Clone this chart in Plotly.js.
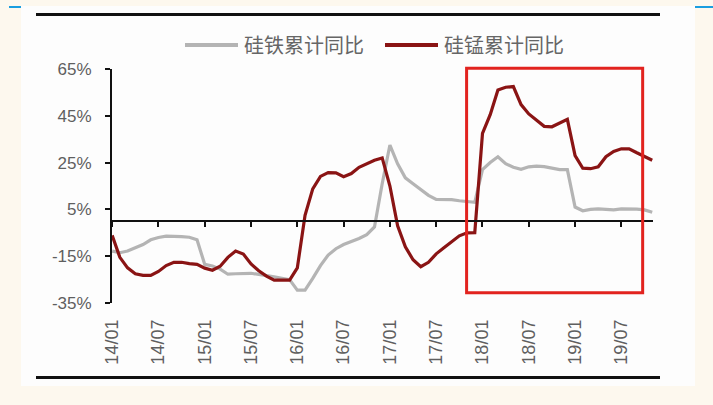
<!DOCTYPE html>
<html>
<head>
<meta charset="utf-8">
<script src="https://cdn.plot.ly/plotly-3.0.1.min.js"></script>
<style>
  html, body { margin: 0; padding: 0; background: #fdf8ee; }
  #wrap { position: relative; width: 713px; height: 405px; overflow: hidden; }
  .panel { position: absolute; left: 21px; top: 6px; width: 674px; height: 380px; background: #fdfdfd; }
  .rule { position: absolute; left: 36px; width: 624px; height: 3px; background: #111; }
  .mark { position: absolute; top: 6px; height: 2px; background: #1b9ee0; }
  #chart { position: absolute; left: 0; top: 0; width: 713px; height: 405px; }
</style>
</head>
<body>
<div id="wrap">
  <div class="panel"></div>
  <div class="rule" style="top:13px"></div>
  <div class="rule" style="top:376px"></div>
  <div class="mark" style="left:9px;width:12px"></div>
  <div class="mark" style="left:695px;width:18px"></div>
  <div id="chart"></div>
</div>
<script>
// Monthly categories, Jan 2014 to Nov 2019
const months = [
  '14/01','14/02','14/03','14/04','14/05','14/06','14/07','14/08','14/09','14/10','14/11','14/12',
  '15/01','15/02','15/03','15/04','15/05','15/06','15/07','15/08','15/09','15/10','15/11','15/12',
  '16/01','16/02','16/03','16/04','16/05','16/06','16/07','16/08','16/09','16/10','16/11','16/12',
  '17/01','17/02','17/03','17/04','17/05','17/06','17/07','17/08','17/09','17/10','17/11','17/12',
  '18/01','18/02','18/03','18/04','18/05','18/06','18/07','18/08','18/09','18/10','18/11','18/12',
  '19/01','19/02','19/03','19/04','19/05','19/06','19/07','19/08','19/09','19/10','19/11'
];

// Labelled ticks on the time axis
const tickLabels = ['14/01','14/07','15/01','15/07','16/01','16/07','17/01','17/07','18/01','18/07','19/01','19/07'];

// Value axis ticks (%)
const yTicks = [65, 45, 25, 5, -15, -35];

const seriesNames = ['硅铁累计同比', '硅锰累计同比'];

// Ferrosilicon, cumulative YoY (%)
const ferrosilicon = [
  -12.8, -13.5, -12.8, -11.5, -10.0, -8.0, -7.0, -6.4, -6.4, -6.6, -6.9, -8.0,
  -18.5, -19.2, -20.5, -22.7, -22.5, -22.3, -22.3, -22.8, -23.2, -23.8, -24.4, -25.0,
  -29.5, -29.5, -24.5, -19.0, -14.5, -11.8, -10.0, -8.8, -7.4, -5.8, -2.5, 16.0,
  32.5, 24.5, 18.5, 16.0, 13.7, 11.0, 9.3, 9.3, 9.2, 8.7, 8.3, 8.0,
  22.0, 25.0, 27.5, 24.5, 23.0, 22.1, 23.2, 23.5, 23.3, 22.8, 22.0, 22.0,
  6.0, 4.4, 5.0, 5.2, 5.0, 4.8, 5.2, 5.3, 5.1, 4.8, 3.8
];

// Silicomanganese, cumulative YoY (%)
const silicomanganese = [
  -6.1, -15.5, -20.0, -22.5, -23.2, -23.2, -21.5, -19.0, -17.6, -17.6, -18.2, -18.5,
  -20.1, -21.0, -19.3, -15.5, -12.8, -14.1, -18.3, -21.2, -23.5, -25.2, -25.2, -25.2,
  -20.0, 2.5, 13.8, 19.1, 20.7, 20.6, 19.0, 20.3, 23.0, 24.5, 26.0, 27.0,
  15.0, -2.0, -11.0, -16.5, -19.5, -17.6, -14.0, -11.4, -9.0, -6.3, -5.0, -4.9,
  37.5, 45.5, 56.0, 57.2, 57.5, 49.8, 45.8, 43.0, 40.5, 40.3, 42.0, 43.5,
  28.0, 22.6, 22.4, 23.2, 27.5, 29.8, 30.9, 30.9, 29.2, 27.5, 26.0
];

// Highlighted period (category index span)
const highlightFrom = 45.94;
const highlightTo = 68.76;

const colors = ['#b4b4b4', '#8a1414'];

const W = 713, H = 405;
const M = { l: 112, r: 60, t: 69, b: 102 };
const PW = W - M.l - M.r, PH = H - M.t - M.b;
const px = v => (v - M.l) / PW;          // page x -> paper x
const py = v => (H - M.b - v) / PH;      // page y -> paper y

const traces = [ferrosilicon, silicomanganese].map((vals, k) => ({
  type: 'scatter',
  mode: 'lines',
  name: seriesNames[k],
  x: months,
  y: vals,
  xaxis: 'x',
  yaxis: 'y',
  line: { color: colors[k], width: 3.2 },
  showlegend: false,
  hoverinfo: 'skip'
}));

const xr = [-0.02, 70.1];

// Legend drawn as short strokes followed by labels
const legendItems = [
  { x0: 185, x1: 238, tx: 242 },
  { x0: 385, x1: 438, tx: 442 }
];
const legendY = 45;

const shapes = [];
const annotations = [];
legendItems.forEach((it, k) => {
  shapes.push({
    type: 'line', xref: 'paper', yref: 'paper',
    x0: px(it.x0), x1: px(it.x1), y0: py(legendY), y1: py(legendY),
    line: { color: colors[k], width: 4 }
  });
  annotations.push({
    xref: 'paper', yref: 'paper', x: px(it.tx), y: py(legendY),
    xanchor: 'left', yanchor: 'middle', showarrow: false,
    text: seriesNames[k],
    font: { family: '"Noto Sans CJK SC", sans-serif', size: 20, color: '#666666' }
  });
});

// Highlight box over 2018–2019
shapes.push({
  type: 'rect', xref: 'x', yref: 'paper',
  x0: highlightFrom, x1: highlightTo, y0: py(292.7), y1: py(68.3),
  line: { color: '#e2231f', width: 3 }, fillcolor: 'rgba(0,0,0,0)'
});

const layout = {
  width: W, height: H,
  margin: M,
  paper_bgcolor: 'rgba(0,0,0,0)',
  plot_bgcolor: 'rgba(0,0,0,0)',
  showlegend: false,
  xaxis: {
    type: 'category',
    categoryorder: 'array', categoryarray: months,
    range: xr,
    tickmode: 'array', tickvals: tickLabels, ticktext: tickLabels,
    tickangle: -90,
    ticks: '', showline: false, showgrid: false, zeroline: false,
    ticklabelstandoff: 12,
    tickfont: { family: '"Liberation Sans", Arial, sans-serif', size: 18, color: '#5f5f5f' }
  },
  xaxis2: {
    type: 'category',
    categoryorder: 'array', categoryarray: months,
    overlaying: 'x', anchor: 'free', position: 35 / 100, side: 'bottom',
    range: xr,
    tickmode: 'array', tickvals: tickLabels,
    showticklabels: false,
    ticks: 'outside', ticklen: 5, tickwidth: 2, tickcolor: '#111',
    showline: true, linecolor: '#111', linewidth: 2,
    showgrid: false, zeroline: false
  },
  yaxis: {
    range: [-35, 65],
    tickmode: 'array', tickvals: yTicks, ticktext: yTicks.map(v => v + '%'),
    ticks: 'outside', ticklen: 5, tickwidth: 2, tickcolor: '#111',
    showline: true, linecolor: '#111', linewidth: 2,
    showgrid: false, zeroline: false,
    ticklabelstandoff: 10,
    tickfont: { family: '"Liberation Sans", Arial, sans-serif', size: 17, color: '#5f5f5f' }
  },
  shapes: shapes,
  annotations: annotations
};

// Empty trace so the zero-line axis is laid out
traces.push({
  type: 'scatter', mode: 'lines', x: months, y: months.map(() => null),
  xaxis: 'x2', yaxis: 'y', showlegend: false, hoverinfo: 'skip'
});

Plotly.newPlot('chart', traces, layout, { staticPlot: true, displayModeBar: false });
</script>
</body>
</html>
